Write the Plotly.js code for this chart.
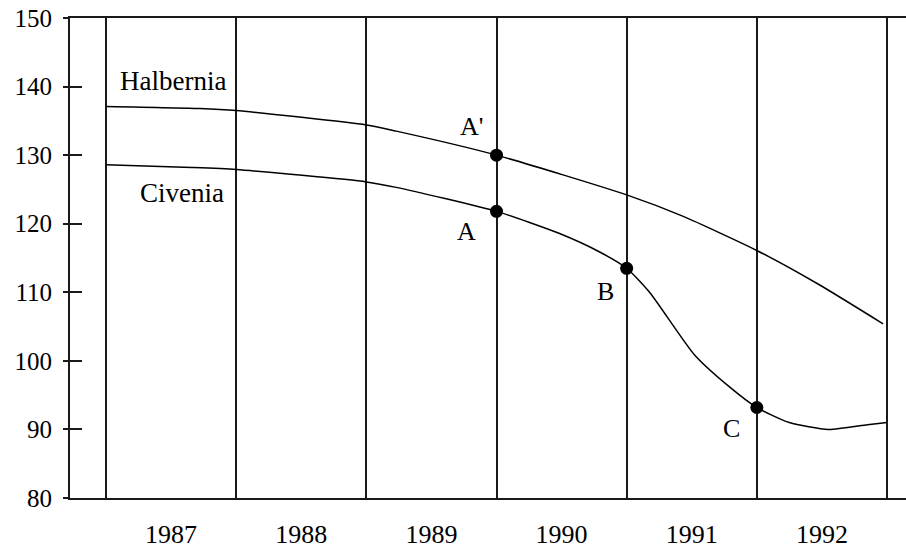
<!DOCTYPE html>
<html>
<head>
<meta charset="utf-8">
<script src="https://cdn.plot.ly/plotly-3.0.1.min.js"></script>
<style>html,body{margin:0;padding:0;background:#fff;}</style>
</head>
<body>
<div id="chart" style="width:906px;height:550px;"></div>
<script>
// Year labels and the boundaries between years
const years = [1987, 1988, 1989, 1990, 1991, 1992];
const yearBoundaries = [1986.5, 1987.5, 1988.5, 1989.5, 1990.5, 1991.5, 1992.5];
const yTicks = [80, 90, 100, 110, 120, 130, 140, 150];

// Halbernia curve
const halberniaX = [1986.5, 1987.22, 1987.5, 1988.5, 1988.73, 1989.5, 1990.5, 1990.93, 1991.5, 1991.98, 1992.47];
const halberniaY = [137.1, 136.8, 136.5, 134.4, 133.5, 130.0, 124.2, 121.1, 116.1, 111.1, 105.4];

// Civenia curve
const civeniaX = [1986.5, 1987.16, 1987.5, 1988.5, 1988.73, 1989.5, 1989.98, 1990.3, 1990.5, 1990.68, 1991.02, 1991.29, 1991.5, 1991.75, 1992.05, 1992.35, 1992.5];
const civeniaY = [128.6, 128.2, 127.9, 126.1, 125.3, 121.8, 118.6, 115.8, 113.5, 109.9, 100.9, 96.2, 93.2, 91.0, 90.0, 90.7, 91.0];

// Marked points
const pointLabels = ["A'", "A", "B", "C"];
const pointX = [1989.5, 1989.5, 1990.5, 1991.5];
const pointY = [130.0, 121.8, 113.5, 93.2];
const pointLabelShiftX = [-25, -30, -21, -25];
const pointLabelShiftY = [29, -20, -23, -21];

const seriesNames = ["Halbernia", "Civenia"];

const FONT = "Liberation Serif";
const INK = "#1a1a1a";

const traces = [
  {x: halberniaX, y: halberniaY, mode: "lines", line: {color: "#000", width: 1.5, shape: "spline", smoothing: 0.6}, name: seriesNames[0], hoverinfo: "skip"},
  {x: civeniaX, y: civeniaY, mode: "lines", line: {color: "#000", width: 1.5, shape: "spline", smoothing: 0.6}, name: seriesNames[1], hoverinfo: "skip"},
  {x: pointX, y: pointY, mode: "markers", marker: {color: "#000", size: 13}, hoverinfo: "skip"},
  {x: years, y: years.map(() => null), xaxis: "x2", yaxis: "y2", mode: "markers", hoverinfo: "skip"}
];

const annotations = pointLabels.map((t, i) => ({
  x: pointX[i], y: pointY[i], xref: "x", yref: "y", text: t, showarrow: false,
  xshift: pointLabelShiftX[i], yshift: pointLabelShiftY[i],
  font: {family: FONT, size: 26, color: "#000"}
}));
annotations.push({x: halberniaX[0], y: halberniaY[0], xref: "x", yref: "y", text: seriesNames[0], showarrow: false,
  xshift: 67, yshift: 25, font: {family: FONT, size: 27, color: "#000"}});
annotations.push({x: civeniaX[0], y: civeniaY[0], xref: "x", yref: "y", text: seriesNames[1], showarrow: false,
  xshift: 76, yshift: -28, font: {family: FONT, size: 27, color: "#000"}});

const xRange = [1986.2234, 1992.646];
const yRange = [80, 150];

const layout = {
  width: 906, height: 550,
  margin: {l: 70, r: 0, t: 18, b: 52, pad: 0},
  paper_bgcolor: "#fff", plot_bgcolor: "#fff",
  showlegend: false,
  font: {family: FONT, size: 25, color: "#000"},
  xaxis: {
    range: xRange, tickvals: yearBoundaries, ticktext: yearBoundaries.map(() => ""),
    showgrid: true, gridcolor: INK, gridwidth: 2,
    showline: true, linecolor: INK, linewidth: 2, mirror: true,
    ticks: "", zeroline: false, fixedrange: true
  },
  xaxis2: {
    overlaying: "x", anchor: "y", side: "bottom", range: xRange,
    tickvals: years, ticktext: years.map(String),
    showgrid: false, showline: false, ticks: "", zeroline: false,
    ticklabelstandoff: 18, tickfont: {family: FONT, size: 26, color: "#000"}, fixedrange: true
  },
  yaxis: {
    range: yRange, tickvals: yTicks, ticktext: yTicks.map(String),
    showgrid: false, showline: true, linecolor: INK, linewidth: 2, mirror: false,
    ticks: "outside", ticklen: 5, tickwidth: 2, tickcolor: INK,
    ticklabelstandoff: 6, tickfont: {family: FONT, size: 25, color: "#000"},
    zeroline: false, fixedrange: true
  },
  yaxis2: {
    overlaying: "y", anchor: "x", side: "left", range: yRange, tickvals: yTicks.filter(v => v > 80 && v < 150),
    showticklabels: false, showgrid: false, showline: false,
    ticks: "inside", ticklen: 12, tickwidth: 2, tickcolor: INK, zeroline: false, fixedrange: true
  },
  annotations: annotations
};

Plotly.newPlot("chart", traces, layout, {displayModeBar: false, staticPlot: true});
</script>
</body>
</html>
